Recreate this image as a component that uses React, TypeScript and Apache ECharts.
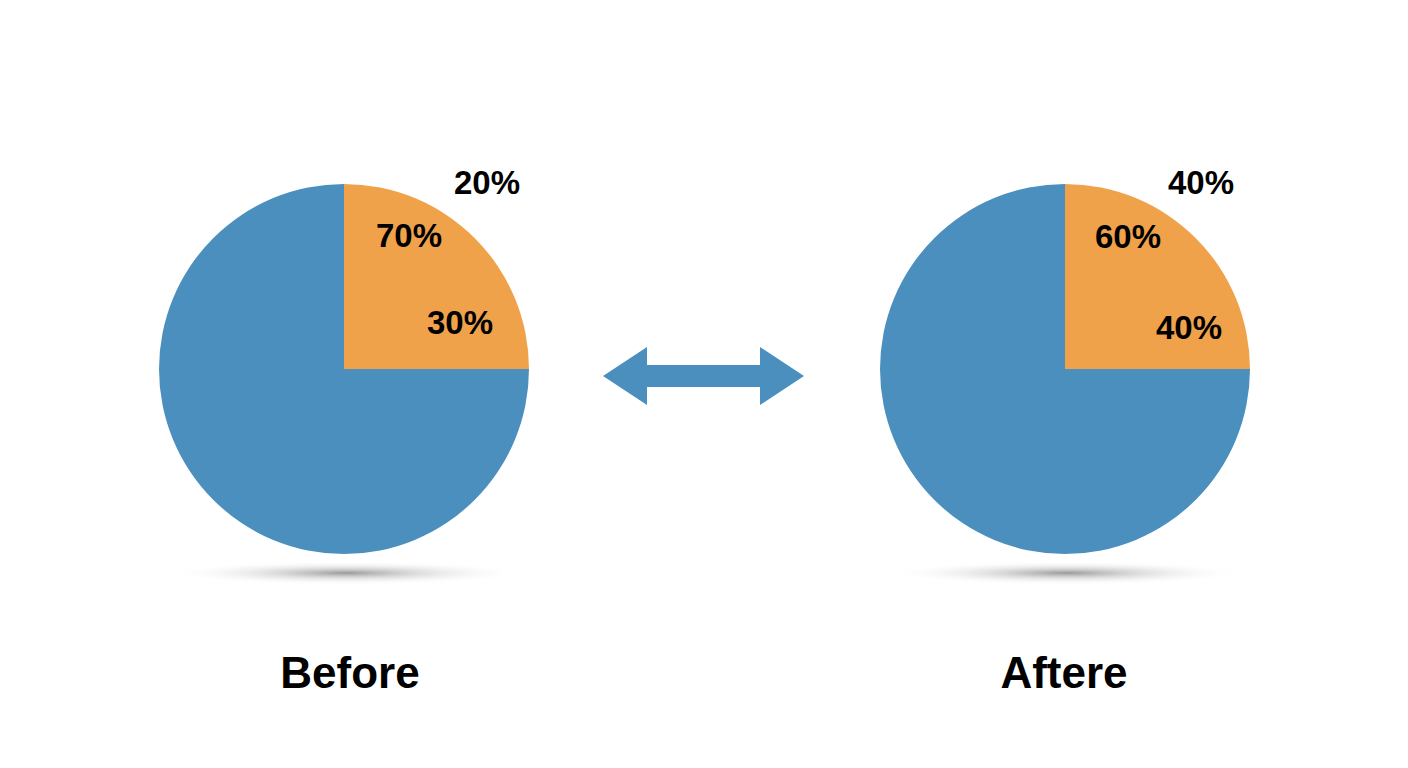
import React, { useEffect, useRef } from "react";
import * as echarts from "echarts";

// ---- data ----
const sliceNames = ["Highlighted", "Rest"];
const beforeValues = [25, 75];
const afterValues = [25, 75];
const beforeLabels = ["20%", "70%", "30%"];
const afterLabels = ["40%", "60%", "40%"];
const panelTitles = ["Before", "Aftere"];

const BLUE = "#4a8fbe";
const ORANGE = "#f0a24b";
const FONT = '"Liberation Sans", Arial, Helvetica, sans-serif';

export default function App() {
  const ref = useRef<HTMLDivElement>(null);

  useEffect(() => {
    if (!ref.current) return;
    const chart = echarts.init(ref.current, null, { renderer: "svg" });

    const pieCenters = [
      [344, 369],
      [1065, 369],
    ];
    const labelPos = [
      [
        [487, 182],
        [409, 235],
        [460, 322],
      ],
      [
        [1201, 182],
        [1128, 236],
        [1189, 327],
      ],
    ];
    const labelSets = [beforeLabels, afterLabels];
    const titlePos = [
      [350, 672],
      [1064, 672],
    ];

    const makePie = (values: number[], center: number[]) => ({
      type: "pie",
      center,
      radius: 185,
      startAngle: 90,
      clockwise: true,
      silent: true,
      label: { show: false },
      labelLine: { show: false },
      emphasis: { disabled: true },
      data: values.map((v, i) => ({
        name: sliceNames[i],
        value: v,
        itemStyle: { color: i === 0 ? ORANGE : BLUE },
      })),
    });

    const graphics: any[] = [];
    pieCenters.forEach((c) => {
      graphics.push({
        type: "ellipse",
        shape: { cx: c[0] + 2, cy: 573, rx: 178, ry: 12 },
        style: {
          fill: new echarts.graphic.RadialGradient(0.5, 0.5, 0.5, [
            { offset: 0, color: "rgba(120,120,120,0.75)" },
            { offset: 0.4, color: "rgba(170,170,170,0.4)" },
            { offset: 1, color: "rgba(255,255,255,0)" },
          ]),
        },
        silent: true,
        z: 0,
      });
    });
    labelSets.forEach((set, p) => {
      set.forEach((t, i) => {
        graphics.push({
          type: "text",
          x: labelPos[p][i][0],
          y: labelPos[p][i][1],
          style: {
            text: t,
            font: `bold 33px ${FONT}`,
            fill: "#000",
            align: "center",
            verticalAlign: "middle",
          },
          z: 10,
        });
      });
    });
    panelTitles.forEach((t, p) => {
      graphics.push({
        type: "text",
        x: titlePos[p][0],
        y: titlePos[p][1],
        style: {
          text: t,
          font: `bold 44px ${FONT}`,
          fill: "#000",
          align: "center",
          verticalAlign: "middle",
        },
        z: 10,
      });
    });
    graphics.push({
      type: "polygon",
      shape: {
        points: [
          [603, 376],
          [647, 347],
          [647, 365],
          [760, 365],
          [760, 347],
          [804, 376],
          [760, 405],
          [760, 387],
          [647, 387],
          [647, 405],
        ],
      },
      style: { fill: BLUE },
      silent: true,
    });

    chart.setOption({
      animation: false,
      backgroundColor: "#ffffff",
      series: [makePie(beforeValues, pieCenters[0]), makePie(afterValues, pieCenters[1])],
      graphic: graphics,
    });

    return () => chart.dispose();
  }, []);

  return (
    <div
      ref={ref}
      style={{ position: "fixed", left: 0, top: 0, width: 1408, height: 768 }}
    />
  );
}
